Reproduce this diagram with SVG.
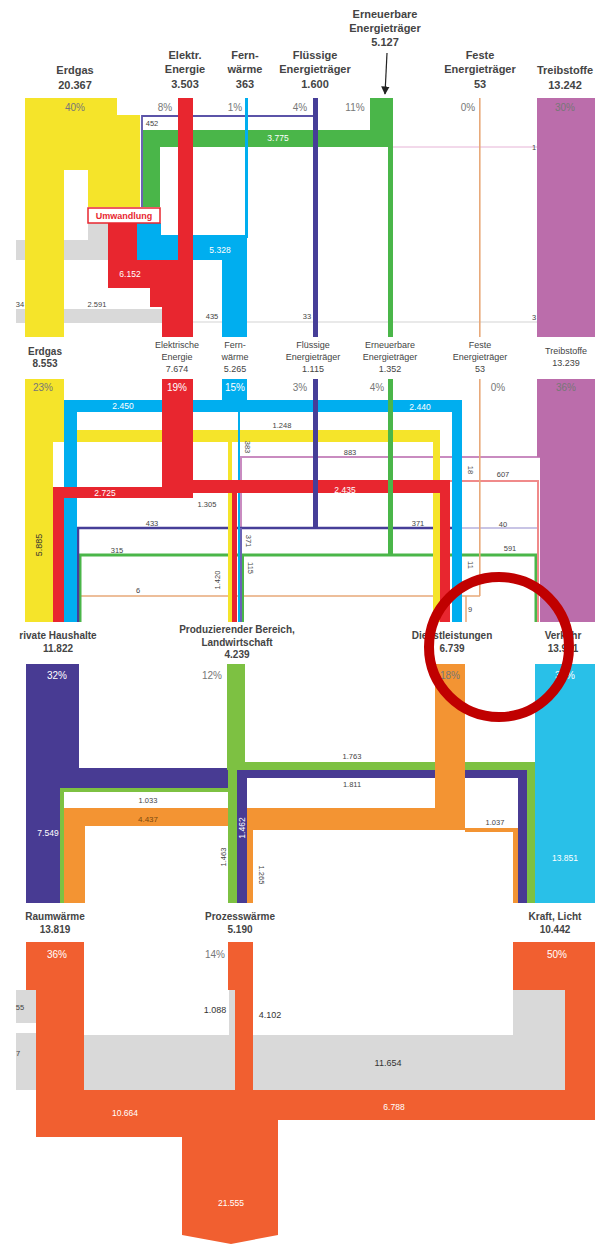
<svg xmlns="http://www.w3.org/2000/svg" width="605" height="1246" viewBox="0 0 605 1246">
<defs>
<style>
text{font-family:"Liberation Sans",Arial,sans-serif;text-anchor:middle}
.h1{font-size:11px;font-weight:bold;fill:#444}
.h2{font-size:9px;fill:#444}
.h3{font-size:10px;font-weight:bold;fill:#444}
.p{font-size:10px;fill:#777}
.pw{font-size:10px;fill:#fff}
.s{font-size:7.5px;fill:#444}
.sw{font-size:8.5px;fill:#fff}
.m{font-size:9px;fill:#333}
.ye{fill:#f5e42a}.rd{fill:#e8262f}.gn{fill:#4ab649}.pu{fill:#463e98}.bl{fill:#00aeef}.tb{fill:#bb6dab}.gy{fill:#d9d9d9}
.g3{fill:#7dc142}.p3{fill:#483b93}.o3{fill:#f39433}.c3{fill:#29c0e8}.o4{fill:#f15f30}
</style>
<marker id="ah" viewBox="0 0 10 10" refX="9" refY="5" markerWidth="7" markerHeight="7" orient="auto"><path d="M0,0 L10,5 L0,10 z" fill="#222"/></marker>
</defs>

<g id="connectors">
<!-- Section 1 flows -->
<rect class="gy" x="88" y="223" width="20" height="17"/>
<rect class="gy" x="16" y="240" width="92" height="20"/>
<rect class="gy" x="16" y="309" width="146" height="14"/>
<line x1="193" y1="322" x2="537" y2="322" stroke="#e2e2e2" stroke-width="1.5"/>
<line x1="393" y1="147" x2="537" y2="147" stroke="#e6b3d6" stroke-width="1"/>
<path class="gn" d="M370,98H393V337H388V147H160V207H143V130H370Z"/>
<path d="M142,207V116H316" fill="none" stroke="#5b53a8" stroke-width="1.8"/>
<path class="bl" d="M137,223H161V235H247V337H222V260H137Z"/>
<rect class="bl" x="245" y="98" width="3" height="140"/>
<path class="rd" d="M178,98H193V337H162V307H150V288H108V223H137V260H178Z"/>
<text class="s" x="152" y="126">452</text>
<text class="sw" x="278" y="141" font-size="8">3.775</text>
<text class="m" x="45" y="208" font-size="8">8.577</text>
<text class="m" x="117" y="200" font-size="10">11.790</text>
<text class="sw" x="130" y="277">6.152</text>
<text class="sw" x="220" y="253">5.328</text>
<text class="s" x="97" y="307">2.591</text>
<text class="s" x="20" y="307">34</text>
<text class="s" x="212" y="319">435</text>
<text class="s" x="307" y="319">33</text>
<text class="s" x="534" y="320">3</text>
<text class="s" x="534" y="150">1</text>

<!-- Section 2 flows -->
<path d="M241,622V457H540" fill="none" stroke="#c98bc0" stroke-width="2"/>
<path d="M80,622V596H480" fill="none" stroke="#e8a97a" stroke-width="1.5"/>
<path d="M466,596V622" fill="none" stroke="#e8a97a" stroke-width="1.5"/>
<path d="M80,622V555H536V622" fill="none" stroke="#4ab649" stroke-width="3"/>
<path d="M243,622V555" fill="none" stroke="#4ab649" stroke-width="2"/>
<path d="M78,622V528H462" fill="none" stroke="#463e98" stroke-width="2.5"/>
<path d="M462,528H537" fill="none" stroke="#b6b0dc" stroke-width="1.5"/>
<path d="M241,622V528" fill="none" stroke="#6a62b5" stroke-width="2"/>
<path d="M450,481H538V622" fill="none" stroke="#f08a8a" stroke-width="2"/>
<path class="ye" d="M25,430H440V622H433V442H232V622H228V442H53V622H25Z"/>
<path class="bl" d="M222,400H462V622H452V412H77V622H64V400Z"/>
<rect class="bl" x="238" y="412" width="2" height="210"/>
<path class="rd" d="M162,487H193V498H64V622H53V487Z"/>
<path class="rd" d="M193,480H450V622H440V493H193Z"/>
<rect class="rd" x="232" y="493" width="5" height="129"/>
<text class="sw" x="123" y="409">2.450</text>
<text class="sw" x="420" y="410">2.440</text>
<text class="s" x="282" y="428" font-size="8">1.248</text>
<text class="s" x="350" y="455">883</text>
<text class="s" x="503" y="477">607</text>
<text class="sw" x="345" y="493">2.435</text>
<text class="sw" x="105" y="496">2.725</text>
<text class="s" x="207" y="507">1.305</text>
<text class="s" x="152" y="526">433</text>
<text class="s" x="418" y="526">371</text>
<text class="s" x="503" y="527">40</text>
<text class="s" x="117" y="553">315</text>
<text class="s" x="510" y="551">591</text>
<text class="s" x="138" y="593">6</text>
<text class="s" x="470" y="612">9</text>
<text class="s" transform="translate(245,447) rotate(90)">383</text>
<text class="s" transform="translate(468,470) rotate(90)">18</text>
<text class="s" transform="translate(246,541) rotate(90)">371</text>
<text class="s" transform="translate(248,568) rotate(90)">115</text>
<text class="s" transform="translate(468,565) rotate(90)">11</text>
<text class="s" transform="translate(220,580) rotate(-90)">1.420</text>
<text class="m" font-size="8" transform="translate(42,545) rotate(-90)">5.885</text>

<!-- Section 3 flows -->
<path class="o3" d="M85,808H465V830H253V903H247V826H85V903H64V808Z"/>
<rect class="o3" x="465" y="828" width="53" height="4"/>
<rect class="o3" x="513" y="828" width="5" height="75"/>
<path class="p3" d="M79,768H237V788H60V903H26V768Z"/>
<path class="p3" d="M237,770H527V903H518V778H247V903H237Z"/>
<rect class="g3" x="245" y="762" width="290" height="8"/>
<rect class="g3" x="527" y="770" width="8" height="133"/>
<rect class="g3" x="228" y="762" width="9" height="141"/>
<rect class="g3" x="60" y="788" width="170" height="4"/>
<rect class="g3" x="60" y="788" width="4" height="115"/>
<rect class="o3" x="435" y="664" width="30" height="166"/>
<text class="s" x="352" y="759" font-size="8">1.763</text>
<text class="s" x="352" y="787" font-size="8">1.811</text>
<text class="s" x="148" y="803" font-size="8">1.033</text>
<text x="148" y="822" font-size="8" fill="#7a4a10">4.437</text>
<text class="s" x="495" y="825" font-size="8">1.037</text>
<text class="sw" font-size="7.5" transform="translate(245,828) rotate(-90)">1.462</text>
<text class="s" transform="translate(226,857) rotate(-90)">1.463</text>
<text class="s" transform="translate(259,875) rotate(90)">1.265</text>
<text class="sw" x="48" y="836">7.549</text>

<!-- Section 4 flows -->
<rect class="gy" x="16" y="990" width="20" height="33"/>
<rect class="gy" x="16" y="1033" width="20" height="57"/>
<rect class="gy" x="36" y="1035" width="529" height="55"/>
<rect class="gy" x="513" y="990" width="52" height="47"/>
<rect class="gy" x="229" y="990" width="6" height="45"/>
<path class="o4" d="M84,990V1090H235V990H253V1090H565V990H595V1120H278V1235L231,1244L182,1235V1137H36V990Z"/>
<text class="s" x="20" y="1010">55</text>
<text class="s" x="18" y="1056">7</text>
<text class="m" x="215" y="1013" font-size="8">1.088</text>
<text class="m" x="270" y="1018">4.102</text>
<text class="m" x="388" y="1066">11.654</text>
<text class="sw" x="125" y="1116" font-size="9">10.664</text>
<text class="sw" x="394" y="1110" font-size="9">6.788</text>
<text class="sw" x="231" y="1206" font-size="10">21.555</text>
</g>

<!-- Section 1 nodes -->
<g id="n-erdgas-1">
<text class="h1" x="75" y="74" font-size="11.5">Erdgas</text>
<text class="h1" x="75" y="89" font-size="11.5">20.367</text>
<path class="ye" d="M25,98H117V115H140V207H88V170H64V337H25Z"/>
<text class="p" x="75" y="111" fill="#666">40%</text>
</g>
<g id="n-elektr-1">
<text class="h1" x="185" y="59">Elektr.</text>
<text class="h1" x="185" y="73">Energie</text>
<text class="h1" x="185" y="88">3.503</text>
<text class="p" x="165" y="111">8%</text>
</g>
<g id="n-fern-1">
<text class="h1" x="245" y="59">Fern-</text>
<text class="h1" x="245" y="73">wärme</text>
<text class="h1" x="245" y="88">363</text>
<text class="p" x="235" y="111">1%</text>
</g>
<g id="n-fluessig-1">
<text class="h1" x="315" y="59">Flüssige</text>
<text class="h1" x="315" y="73">Energieträger</text>
<text class="h1" x="315" y="88">1.600</text>
<rect class="pu" x="313" y="98" width="5" height="239"/>
<text class="p" x="300" y="111">4%</text>
</g>
<g id="n-erneuer-1">
<text class="h1" x="385" y="18" font-weight="normal">Erneuerbare</text>
<text class="h1" x="385" y="32" font-weight="normal">Energieträger</text>
<text class="h1" x="385" y="46">5.127</text>
<line x1="387" y1="53" x2="385" y2="94" stroke="#222" stroke-width="1.2" marker-end="url(#ah)"/>
<text class="p" x="355" y="111">11%</text>
</g>
<g id="n-feste-1">
<text class="h1" x="480" y="59">Feste</text>
<text class="h1" x="480" y="73">Energieträger</text>
<text class="h1" x="480" y="88">53</text>
<rect x="479" y="98" width="1.6" height="239" fill="#e8a97a"/>
<text class="p" x="468" y="111">0%</text>
</g>
<g id="n-treib-1">
<text class="h1" x="565" y="74">Treibstoffe</text>
<text class="h1" x="565" y="89">13.242</text>
<rect class="tb" x="537" y="98" width="58" height="239"/>
<text class="p" x="565" y="111" fill="#6a3a62">30%</text>
</g>
<g id="n-umwandlung">
<rect x="88" y="208" width="72" height="15" fill="#fff" stroke="#e8262f" stroke-width="1.5"/>
<text x="124" y="219" font-size="9" font-weight="bold" fill="#e8262f">Umwandlung</text>
</g>

<!-- Section 2 nodes -->
<g id="n-erdgas-2">
<text class="h3" x="45" y="355" font-weight="normal">Erdgas</text>
<text class="h3" x="45" y="367" font-weight="normal">8.553</text>
<rect class="ye" x="25" y="379" width="39" height="63"/>
<text class="p" x="43" y="391" fill="#555">23%</text>
</g>
<g id="n-elektr-2">
<text class="h2" x="177" y="348">Elektrische</text>
<text class="h2" x="177" y="360">Energie</text>
<text class="h2" x="177" y="372">7.674</text>
<rect class="rd" x="162" y="379" width="31" height="110"/>
<text class="pw" x="177" y="391">19%</text>
</g>
<g id="n-fern-2">
<text class="h2" x="235" y="348">Fern-</text>
<text class="h2" x="235" y="360">wärme</text>
<text class="h2" x="235" y="372">5.265</text>
<rect class="bl" x="222" y="379" width="25" height="22"/>
<text class="pw" x="235" y="391">15%</text>
</g>
<g id="n-fluessig-2">
<text class="h2" x="313" y="348">Flüssige</text>
<text class="h2" x="313" y="360">Energieträger</text>
<text class="h2" x="313" y="372">1.115</text>
<rect class="pu" x="313" y="379" width="5" height="150"/>
<text class="p" x="300" y="391">3%</text>
</g>
<g id="n-erneuer-2">
<text class="h2" x="390" y="348">Erneuerbare</text>
<text class="h2" x="390" y="360">Energieträger</text>
<text class="h2" x="390" y="372">1.352</text>
<rect class="gn" x="388" y="379" width="5" height="176"/>
<text class="p" x="377" y="391">4%</text>
</g>
<g id="n-feste-2">
<text class="h2" x="480" y="348">Feste</text>
<text class="h2" x="480" y="360">Energieträger</text>
<text class="h2" x="480" y="372">53</text>
<rect x="479" y="379" width="1.6" height="217" fill="#e8a97a"/>
<text class="p" x="498" y="391">0%</text>
</g>
<g id="n-treib-2">
<text class="h2" x="566" y="354">Treibstoffe</text>
<text class="h2" x="566" y="366">13.239</text>
<path class="tb" d="M537,379H595V622H540V457H537Z"/>
<text class="p" x="566" y="391" fill="#6a3a62">36%</text>
</g>

<!-- Section 3 nodes -->
<g id="n-haushalte">
<text class="h3" x="58" y="639">rivate Haushalte</text>
<text class="h3" x="58" y="652">11.822</text>
<rect class="p3" x="26" y="664" width="53" height="105"/>
<text class="pw" x="57" y="679">32%</text>
</g>
<g id="n-produz">
<text class="h3" x="237" y="633">Produzierender Bereich,</text>
<text class="h3" x="237" y="646">Landwirtschaft</text>
<text class="h3" x="237" y="658">4.239</text>
<rect class="g3" x="227" y="664" width="18" height="106"/>
<text class="p" x="212" y="679" fill="#555">12%</text>
</g>
<g id="n-dienst">
<text class="h3" x="452" y="639">Dienstleistungen</text>
<text class="h3" x="452" y="652">6.739</text>
<text class="p" x="450" y="679" fill="#6a3a10">18%</text>
</g>
<g id="n-verkehr">
<text class="h3" x="563" y="639">Verkehr</text>
<text class="h3" x="563" y="652">13.901</text>
<rect class="c3" x="535" y="664" width="60" height="239"/>
<text class="pw" x="565" y="679">35%</text>
<text class="sw" x="565" y="861" font-size="9.5">13.851</text>
</g>

<!-- Section 4 nodes -->
<g id="n-raum">
<text class="h3" x="55" y="920">Raumwärme</text>
<text class="h3" x="55" y="933">13.819</text>
<rect class="o4" x="26" y="942" width="58" height="48"/>
<text class="pw" x="57" y="958">36%</text>
</g>
<g id="n-prozess">
<text class="h3" x="240" y="920">Prozesswärme</text>
<text class="h3" x="240" y="933">5.190</text>
<rect class="o4" x="228" y="942" width="25" height="48"/>
<text class="p" x="215" y="958" fill="#555">14%</text>
</g>
<g id="n-kraft">
<text class="h3" x="555" y="920">Kraft, Licht</text>
<text class="h3" x="555" y="933">10.442</text>
<rect class="o4" x="513" y="942" width="82" height="48"/>
<text class="pw" x="557" y="958">50%</text>
</g>

<g id="highlight">
<circle cx="499" cy="647" r="70" fill="none" stroke="#c00000" stroke-width="10"/>
</g>
</svg>
